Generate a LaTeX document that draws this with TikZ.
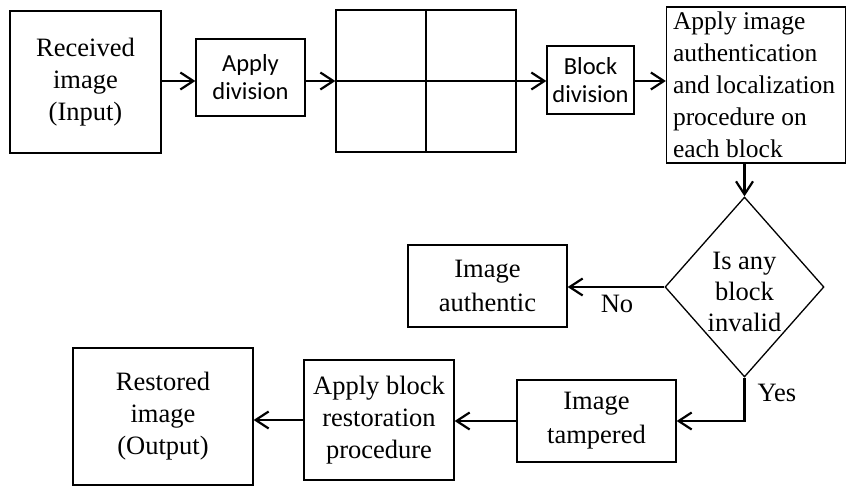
\documentclass[tikz,border=0pt]{standalone}
\usepackage{fontspec}
\setmainfont{Liberation Serif}
\newfontfamily\carl{Carlito}
\usetikzlibrary{arrows.meta,shapes.geometric}
\begin{document}
\begin{tikzpicture}[x=1pt,y=-1pt,
  box/.style={draw,line width=1.3pt,inner sep=0pt,align=center,
    font=\fontsize{26.5}{32}\selectfont},
  sbox/.style={box,font=\carl\fontsize{24.5}{28}\selectfont},
  arr/.style={line width=2.2pt,-{Straight Barb[length=13pt,width=17pt,line width=2.2pt]}},
  lbl/.style={inner sep=0pt,font=\fontsize{26.5}{31}\selectfont}]
\useasboundingbox (0,0) rectangle (847,486);
\node[box,minimum width=151,minimum height=142] (recv) at (85.5,82) {Received\\image\\(Input)};
\node[sbox,minimum width=109,minimum height=77] (appdiv) at (250.5,77.5) {Apply\\division};
\node[box,minimum width=180,minimum height=142] (grid) at (426,81) {};
\draw[line width=1.3pt] (grid.north) -- (grid.south) (grid.west) -- (grid.east);
\node[sbox,minimum width=87,minimum height=68] (blkdiv) at (590.5,80) {Block\\division};
\node[box,minimum width=179,minimum height=156,align=flush left,text width=166,
  font=\fontsize{25.5}{32}\selectfont] (auth) at (756,85)
  {Apply image\\authentication\\and localization\\procedure on\\each block};
\node[draw,line width=1.3pt,diamond,inner sep=0pt,minimum width=159,minimum height=180] (dec) at (744.5,287) {};
\node[lbl,align=center] (dect) at (744.5,292) {Is any\\block\\invalid};
\node[box,minimum width=159,minimum height=82,font=\fontsize{26.5}{34}\selectfont] (authn) at (487.5,286) {Image\\authentic};
\node[box,minimum width=159,minimum height=82,font=\fontsize{26.5}{34}\selectfont] (tamp) at (596.5,421) {Image\\tampered};
\node[box,minimum width=150,minimum height=120] (rest) at (379,420) {Apply block\\restoration\\procedure};
\node[box,minimum width=180,minimum height=137] (out) at (163,416.5) {Restored\\image\\(Output)};
\draw[arr] (recv.east |- 0,81) -- (appdiv.west |- 0,81);
\draw[arr] (appdiv.east |- grid.west) -- (grid.west);
\draw[arr] (grid.east) -- (grid.east -| blkdiv.west);
\draw[arr] (blkdiv.east |- grid.east) -- (auth.west |- grid.east);
\draw[arr] (dec.north |- auth.south) -- (dec.north);
\draw[arr] (dec.west) -- (dec.west -| authn.east);
\draw[arr] (dec.south) |- (tamp.east);
\draw[arr] (tamp.west) -- (tamp.west -| rest.east);
\draw[arr] (rest.west) -- (rest.west -| out.east);
\node[lbl] (no) at (617,304) {No};
\node[lbl] (yes) at (777,393) {Yes};
\end{tikzpicture}
\end{document}
